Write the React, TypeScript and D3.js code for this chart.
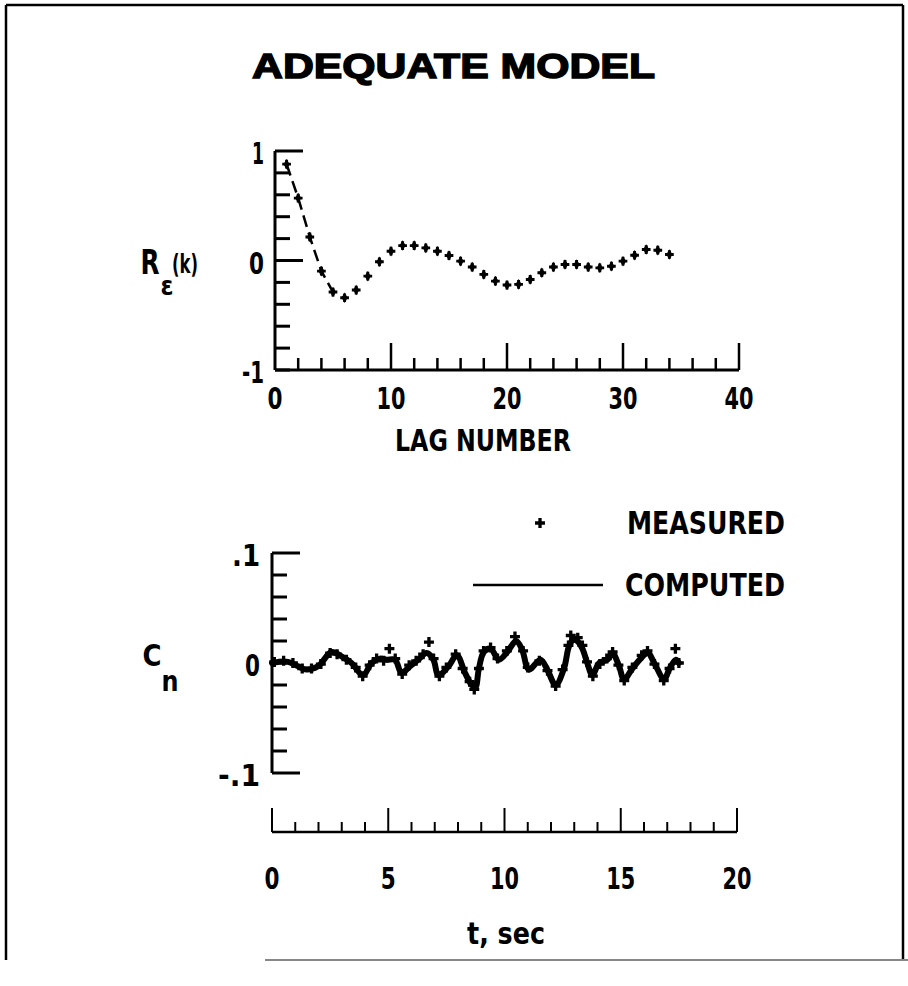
import React from "react";
import * as d3 from "d3";

// ---------- data ----------
const title = "ADEQUATE MODEL";

// top panel: residual autocorrelation
const lags = [1, 2, 3, 4, 5, 6, 7, 8, 9, 10, 11, 12, 13, 14, 15, 16, 17, 18, 19, 20, 21, 22, 23, 24, 25, 26, 27, 28, 29, 30, 31, 32, 33, 34];
const rValues = [0.88, 0.57, 0.215, -0.097, -0.288, -0.34, -0.27, -0.143, -0.012, 0.085, 0.136, 0.136, 0.115, 0.085, 0.045, -0.006, -0.06, -0.127, -0.188, -0.224, -0.218, -0.173, -0.112, -0.06, -0.036, -0.036, -0.06, -0.067, -0.052, -0.006, 0.048, 0.1, 0.094, 0.055];
const dashedLags = [1, 2, 3, 4, 5];
const topYTicks = [-1, -0.8, -0.6, -0.4, -0.2, 0, 0.2, 0.4, 0.6, 0.8, 1];
const topYMajor = [0, 1];
const topYLabels = [{ v: 1, t: "1", w: 12 }, { v: 0, t: "0", w: 15 }, { v: -1, t: "-1", w: 22 }];
const topXTicks = [2, 4, 6, 8, 10, 12, 14, 16, 18, 20, 22, 24, 26, 28, 30, 32, 34, 36, 38, 40];
const topXMajor = [10, 20, 30, 40];
const topXLabels = [0, 10, 20, 30, 40];

// bottom panel: time history of Cn
const computedT = [0, 0.26, 0.69, 1.12, 1.48, 1.98, 2.56, 2.99, 3.42, 3.92, 4.28, 4.64, 4.93, 5.29, 5.57, 5.93, 6.29, 6.65, 6.94, 7.16, 7.59, 7.95, 8.3, 8.59, 8.75, 8.89, 9.11, 9.4, 9.76, 10.12, 10.5, 10.76, 11.05, 11.55, 11.84, 12.2, 12.56, 12.77, 12.95, 13.13, 13.35, 13.56, 13.78, 14.07, 14.43, 14.64, 14.93, 15.14, 15.5, 15.94, 16.15, 16.44, 16.87, 17.08, 17.37, 17.5];
const computedV = [0, 0.001, 0.001, -0.003, -0.006, -0.003, 0.01, 0.006, 0, -0.011, 0, 0.004, 0.003, 0.003, -0.009, -0.003, 0.003, 0.009, 0.003, -0.011, -0.003, 0.007, -0.009, -0.02, -0.022, -0.006, 0.01, 0.013, 0.003, 0.01, 0.02, 0.012, -0.006, 0.003, -0.006, -0.02, -0.005, 0.015, 0.021, 0.02, 0.013, 0, -0.011, 0, 0.003, 0.009, -0.003, -0.015, -0.005, 0.006, 0.01, 0, -0.015, -0.006, 0.003, 0];
const measuredT = [0.1, 0.5, 0.9, 1.3, 1.7, 2.1, 2.5, 2.8, 3.2, 3.6, 3.9, 4.2, 4.5, 4.8, 5.05, 5.3, 5.6, 5.9, 6.2, 6.5, 6.75, 6.95, 7.2, 7.5, 7.9, 8.2, 8.5, 8.7, 8.9, 9.1, 9.4, 9.7, 10.1, 10.45, 10.8, 11.0, 11.5, 11.85, 12.2, 12.5, 12.75, 12.85, 13.15, 13.35, 13.55, 13.8, 14.1, 14.4, 14.65, 14.9, 15.15, 15.5, 15.9, 16.15, 16.45, 16.85, 17.1, 17.35, 17.5];
const measuredV = [0.001, 0.002, 0, -0.005, -0.005, -0.001, 0.009, 0.008, 0.003, -0.004, -0.012, -0.002, 0.004, 0.002, 0.013, 0.004, -0.01, -0.002, 0.002, 0.008, 0.019, 0.004, -0.012, -0.004, 0.008, -0.005, -0.017, -0.024, -0.005, 0.011, 0.014, 0.004, 0.011, 0.024, 0.011, -0.004, 0.002, -0.007, -0.021, -0.006, 0.016, 0.025, 0.023, 0.016, 0.001, -0.012, -0.001, 0.004, 0.01, -0.002, -0.016, -0.004, 0.007, 0.011, -0.001, -0.016, -0.005, 0.013, 0];
const botYTicks = [-0.1, -0.08, -0.06, -0.04, -0.02, 0, 0.02, 0.04, 0.06, 0.08, 0.1];
const botYMajor = [-0.1, 0.1];
const botYLabels = [{ v: 0.1, t: ".1", w: 28 }, { v: 0, t: "0", w: 15 }, { v: -0.1, t: "-.1", w: 42 }];
const botXTicks = [0, 1, 2, 3, 4, 5, 6, 7, 8, 9, 10, 11, 12, 13, 14, 15, 16, 17, 18, 19, 20];
const botXMajor = [0, 5, 10, 15, 20];
const botXLabels = [0, 5, 10, 15, 20];

const legendItems = ["MEASURED", "COMPUTED"];

// ---------- layout ----------
const W = 908;
const H = 986;
const FONT = "'DejaVu Sans Condensed', 'DejaVu Sans', sans-serif";

const xTop = d3.scaleLinear().domain([0, 40]).range([275, 739]);
const yTop = d3.scaleLinear().domain([-1, 1]).range([370, 151]);
const xBot = d3.scaleLinear().domain([0, 20]).range([272, 737]);
const yBot = d3.scaleLinear().domain([-0.1, 0.1]).range([773, 553]);
const botAxisY = 832;

const cross = d3.symbol().type(d3.symbolCross).size(42)() as string;
const bigCross = d3.symbol().type(d3.symbolCross).size(55)() as string;
const diamond = d3.symbol().type(d3.symbolDiamond).size(32)() as string;

function T(props: any) {
  const { x, y, children, size = 31, anchor = "middle", len, weight = "bold", family = FONT, stroke } = props;
  return (
    <text
      x={x}
      y={y}
      fontSize={size}
      fontFamily={family}
      fontWeight={weight}
      textAnchor={anchor}
      dominantBaseline="central"
      fill="#000"
      stroke={stroke ? "#000" : undefined}
      strokeWidth={stroke || undefined}
      style={{ fontStretch: "condensed" }}
      textLength={len}
      lengthAdjust={len ? "spacingAndGlyphs" : undefined}
    >
      {children}
    </text>
  );
}

const numLen = (s: string) => (s.length === 1 ? 15 : 29);

export default function App() {
  const topPts = lags.map((l, i) => [xTop(l), yTop(rValues[i])] as [number, number]);
  const dashedPts = dashedLags.map((l) => [xTop(l), yTop(rValues[lags.indexOf(l)])] as [number, number]);
  const lineGen = d3.line();
  const compPts = computedT.map((t, i) => [xBot(t), yBot(computedV[i])] as [number, number]);
  const compLine = d3.line().curve(d3.curveCatmullRom.alpha(0.5));

  const sw = 3;
  return (
    <svg width={W} height={H} style={{ position: "absolute", left: 0, top: 0, background: "#fff" }}>
      <rect x={0} y={0} width={W} height={H} fill="#fff" />
      {/* frame */}
      <line x1={6} y1={5} x2={903} y2={5} stroke="#000" strokeWidth={2.5} />
      <line x1={6} y1={5} x2={6} y2={960} stroke="#000" strokeWidth={2.5} />
      <line x1={903} y1={5} x2={903} y2={960} stroke="#000" strokeWidth={2.5} />
      <line x1={265} y1={960} x2={908} y2={960} stroke="#888" strokeWidth={2} />

      {/* title */}
      <T x={252} y={65} size={35} anchor="start" len={403} stroke={1.4} family="'Liberation Sans', Arial, sans-serif">
        {title}
      </T>

      {/* ---- top panel ---- */}
      <line x1={xTop(0)} y1={yTop(1)} x2={xTop(0)} y2={yTop(-1)} stroke="#000" strokeWidth={sw} />
      <line x1={xTop(0)} y1={yTop(-1)} x2={xTop(40)} y2={yTop(-1)} stroke="#000" strokeWidth={sw} />
      {topYTicks.map((v) => (
        <line key={"ty" + v} x1={xTop(0)} y1={yTop(v)} x2={xTop(0) + (topYMajor.includes(v) ? 28 : 15)} y2={yTop(v)} stroke="#000" strokeWidth={sw} />
      ))}
      {topXTicks.map((v) => (
        <line key={"tx" + v} x1={xTop(v)} y1={yTop(-1)} x2={xTop(v)} y2={yTop(-1) - (topXMajor.includes(v) ? 27 : 12)} stroke="#000" strokeWidth={2.5} />
      ))}
      {topYLabels.map((d) => (
        <T key={"tyl" + d.t} x={xTop(0) - 11} y={yTop(d.v) + 2} anchor="end" len={d.w}>
          {d.t}
        </T>
      ))}
      {topXLabels.map((v) => (
        <T key={"txl" + v} x={xTop(v)} y={398} len={numLen(String(v))}>
          {String(v)}
        </T>
      ))}
      <T x={483} y={440} size={30} len={176}>LAG NUMBER</T>
      {/* R_eps (k) */}
      <T x={150} y={262} size={33} len={19}>R</T>
      <T x={167} y={286} size={26}>ε</T>
      <T x={185} y={263} size={27} len={26}>(k)</T>

      <path d={lineGen(dashedPts) as string} fill="none" stroke="#000" strokeWidth={2.5} strokeDasharray="12,6" />
      {topPts.map((p, i) => (
        <g key={"tp" + i} transform={`translate(${p[0]},${p[1]})`}>
          <path d={cross} fill="#000" />
          <path d={diamond} fill="#000" />
        </g>
      ))}

      {/* ---- bottom panel ---- */}
      <line x1={xBot(0)} y1={yBot(0.1)} x2={xBot(0)} y2={yBot(-0.1)} stroke="#000" strokeWidth={sw} />
      {botYTicks.map((v) => (
        <line key={"by" + v} x1={xBot(0)} y1={yBot(v)} x2={xBot(0) + (botYMajor.includes(v) ? 28 : 15)} y2={yBot(v)} stroke="#000" strokeWidth={sw} />
      ))}
      <line x1={xBot(0)} y1={botAxisY} x2={xBot(20)} y2={botAxisY} stroke="#000" strokeWidth={2.5} />
      {botXTicks.map((v) => (
        <line key={"bx" + v} x1={xBot(v)} y1={botAxisY} x2={xBot(v)} y2={botAxisY - (botXMajor.includes(v) ? 24 : 10)} stroke="#000" strokeWidth={2} />
      ))}
      {botYLabels.map((d) => (
        <T key={"byl" + d.t} x={xBot(0) - 12} y={yBot(d.v) + 2} anchor="end" len={d.w}>
          {d.t}
        </T>
      ))}
      {botXLabels.map((v) => (
        <T key={"bxl" + v} x={xBot(v)} y={878} len={numLen(String(v))}>
          {String(v)}
        </T>
      ))}
      <T x={506} y={933} size={30} len={78}>t, sec</T>
      {/* C_n */}
      <T x={152} y={655} size={31} len={19}>C</T>
      <T x={170} y={681} size={28} len={17}>n</T>

      <path d={compLine(compPts) as string} fill="none" stroke="#000" strokeWidth={6} strokeLinejoin="round" strokeLinecap="round" />
      {measuredT.map((t, i) => (
        <path key={"mp" + i} d={bigCross} transform={`translate(${xBot(t)},${yBot(measuredV[i])})`} fill="#000" />
      ))}

      {/* legend */}
      <path d={bigCross} transform="translate(540,523)" fill="#000" />
      <T x={627} y={523} size={32} anchor="start" len={158}>{legendItems[0]}</T>
      <line x1={473} y1={585} x2={603} y2={585} stroke="#000" strokeWidth={2.5} />
      <T x={625} y={585} size={32} anchor="start" len={160}>{legendItems[1]}</T>
    </svg>
  );
}
